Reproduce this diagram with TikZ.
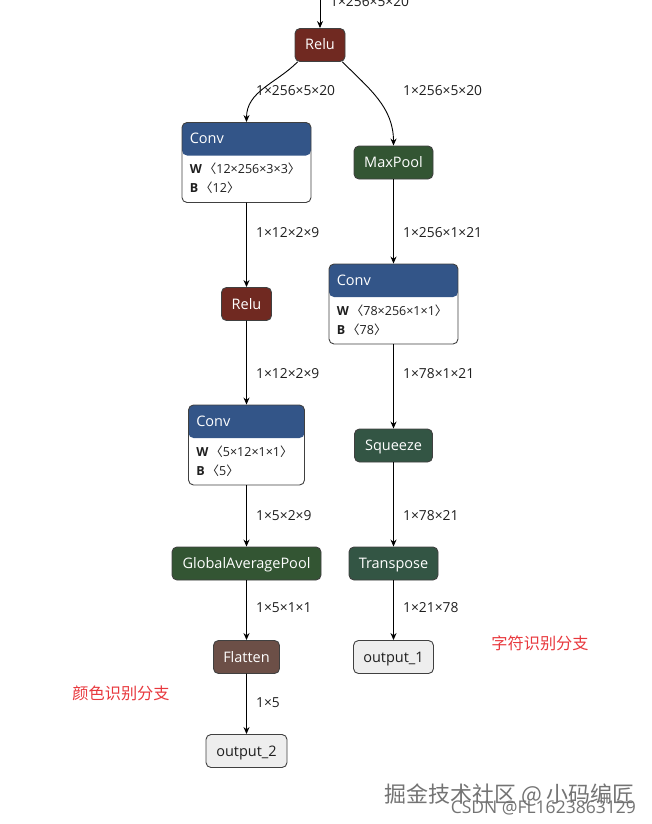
\documentclass[tikz,border=0pt]{standalone}
\usepackage{fontspec}
\setmainfont{Open Sans}
\newfontfamily\cjk{Noto Sans CJK SC}
\usetikzlibrary{arrows.meta,positioning}
\definecolor{NetInk}{gray}{0.12}
\definecolor{NetBorder}{gray}{0.25}
\definecolor{LayerBlue}{HTML}{335588}
\definecolor{ActRed}{HTML}{702921}
\definecolor{PoolGreen}{HTML}{335533}
\definecolor{MoveGreen}{HTML}{335544}
\definecolor{ShapeBrown}{HTML}{6C4F47}
\definecolor{IOGray}{HTML}{EEEEEE}
\definecolor{NoteRed}{HTML}{E8383D}
\definecolor{MarkGray}{gray}{0.45}
\tikzset{
    net/graph/.style={
        x=1pt, y=1pt,
        font=\fontsize{14.5}{16}\selectfont,
        line cap=round,
        line join=round,
        >={Stealth[length=7pt, width=6pt]}
    },
    net/op/.style={
        draw=NetBorder, line width=0.9pt, rounded corners=5pt,
        text=white, minimum height=33pt, inner xsep=2pt, inner ysep=0pt,
        text height=11.5pt, text depth=1.5pt
    },
    net/act/.style={net/op, fill=ActRed},
    net/pool/.style={net/op, fill=PoolGreen},
    net/move/.style={net/op, fill=MoveGreen},
    net/shape/.style={net/op, fill=ShapeBrown},
    net/io/.style={net/op, fill=IOGray, text=NetInk},
    net/conv/.style={
        draw=NetBorder, line width=0.9pt, rounded corners=5pt,
        fill=white, minimum height=80pt, inner sep=0pt,
        path picture={
            \fill[LayerBlue] (path picture bounding box.north west)
                rectangle ([yshift=-33pt]path picture bounding box.north east);
        }
    },
    net/title/.style={text=white, anchor=west, inner sep=0pt,
        text height=11.5pt, text depth=1.5pt},
    net/attr/.style={text=NetInk, anchor=west, inner sep=0pt,
        font=\fontsize{12.5}{14}\selectfont},
    net/edge/.style={draw=black, line width=0.9pt, ->},
    net/dims/.style={text=NetInk, anchor=west, inner sep=0pt,
        font=\fontsize{13.8}{15}\selectfont},
    net/note/.style={text=NoteRed, inner sep=0pt,
        font=\cjk\fontsize{16.2}{18}\selectfont},
    net/mark/.style={text=MarkGray, anchor=east, inner sep=0pt}
}
% conv block: name, centre, width, W shape, B shape
\newcommand{\convop}[5]{%
    \node[net/conv, minimum width=#3pt] (#1) at (#2) {};
    \node[net/title] (#1-t) at ([xshift=8pt, yshift=-16.5pt]#1.north west) {Conv};
    \node[net/attr] (#1-w) at ([xshift=8pt, yshift=-47pt]#1.north west)
        {\textbf{W}\,{\cjk 〈}#4{\cjk 〉}};
    \node[net/attr] (#1-b) at ([xshift=8pt, yshift=-66pt]#1.north west)
        {\textbf{B}\,{\cjk 〈}#5{\cjk 〉}};
}

\begin{document}
\begin{tikzpicture}[net/graph]
    \useasboundingbox (0,0) rectangle (651,-824);

    % left branch
    \node[net/act, minimum width=50pt] (relu1) at (320,-45) {Relu};
    \convop{conv1}{246.5,-162.5}{129}{12×256×3×3}{12}
    \node[net/act, minimum width=50pt] (relu2) at (246.5,-304) {Relu};
    \convop{conv3}{246.5,-445}{116}{5×12×1×1}{5}
    \node[net/pool, minimum width=149pt] (gap) at (246.5,-563.5) {GlobalAveragePool};
    \node[net/shape, minimum width=66pt] (flatten) at (246.5,-657) {Flatten};
    \node[net/io, minimum width=81pt] (out2) at (246.5,-751) {output\_2};

    % right branch
    \node[net/pool, minimum width=79pt] (maxpool) at (393.5,-162.5) {MaxPool};
    \convop{conv2}{393.5,-304}{129}{78×256×1×1}{78}
    \node[net/move, minimum width=78pt] (squeeze) at (393.5,-445.5) {Squeeze};
    \node[net/move, minimum width=89pt] (transpose) at (393.5,-563.5) {Transpose};
    \node[net/io, minimum width=80pt] (out1) at (393.5,-657) {output\_1};

    % connectors
    \coordinate (in0) at (320,2);
    \draw[net/edge] (in0) -- (relu1);
    \draw[net/edge] ([xshift=3pt]relu1.south west) to[out=-135, in=90] (conv1.north);
    \draw[net/edge] ([xshift=-3pt]relu1.south east) to[out=-45, in=90] (maxpool.north);
    \draw[net/edge] (conv1) -- (relu2);
    \draw[net/edge] (relu2) -- (conv3);
    \draw[net/edge] (conv3) -- (gap);
    \draw[net/edge] (gap) -- (flatten);
    \draw[net/edge] (flatten) -- (out2);
    \draw[net/edge] (maxpool) -- (conv2);
    \draw[net/edge] (conv2) -- (squeeze);
    \draw[net/edge] (squeeze) -- (transpose);
    \draw[net/edge] (transpose) -- (out1);

    % tensor shapes
    \node[net/dims] (d0) at (330,-2) {1×256×5×20};
    \node[net/dims] (d1) at (256,-91) {1×256×5×20};
    \node[net/dims] (d2) at (403,-91) {1×256×5×20};
    \node[net/dims] (d3) at (256,-233) {1×12×2×9};
    \node[net/dims] (d4) at (403,-233) {1×256×1×21};
    \node[net/dims] (d5) at (256,-374) {1×12×2×9};
    \node[net/dims] (d6) at (403,-374) {1×78×1×21};
    \node[net/dims] (d7) at (256,-516) {1×5×2×9};
    \node[net/dims] (d8) at (403,-516) {1×78×21};
    \node[net/dims] (d9) at (256,-608) {1×5×1×1};
    \node[net/dims] (d10) at (403,-608) {1×21×78};
    \node[net/dims] (d11) at (256,-703) {1×5};

    % branch notes
    \node[net/note] (charnote) at (540,-643) {字符识别分支};
    \node[net/note] (colornote) at (121,-693) {颜色识别分支};

    % watermark
    \node[net/mark, font=\cjk\fontsize{22}{24}\selectfont] (mark1) at (635,-795) {掘金技术社区 @ 小码编匠};
    \node[net/mark, font=\fontsize{17.5}{19}\selectfont] (mark2) at (636,-808) {CSDN @FL1623863129};
\end{tikzpicture}
\end{document}
